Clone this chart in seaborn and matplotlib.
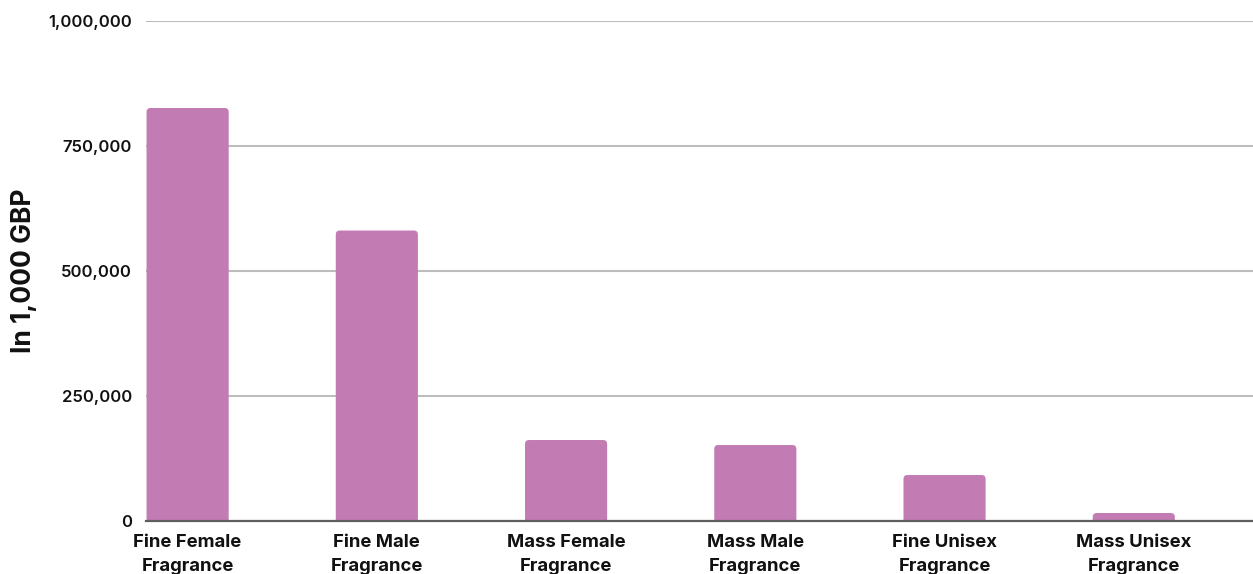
import numpy as np
import pandas as pd
import matplotlib.pyplot as plt
import seaborn as sns
from matplotlib.patches import FancyBboxPatch

# Market values (in 1,000 GBP)
categories = ['Fine Female\nFragrance', 'Fine Male\nFragrance', 'Mass Female\nFragrance',
              'Mass Male\nFragrance', 'Fine Unisex\nFragrance', 'Mass Unisex\nFragrance']
values = [826000, 581000, 162000, 152000, 92000, 16000]
y_ticks = [0, 250000, 500000, 750000, 1000000]

df = pd.DataFrame({'category': categories, 'value': values})

sns.set_theme(style='white')
plt.rcParams['font.family'] = ['Inter', 'DejaVu Sans']

fig = plt.figure(figsize=(12.53, 5.74), dpi=100)
ax = fig.add_axes([0.1165, 0.0923, 0.8835, 0.8711])

sns.barplot(data=df, x='category', y='value', color='#c27cb3', saturation=1,
            width=0.434, ax=ax)

ax.set_ylim(0, 1000000)
ax.set_xlim(-0.22, 5.63)

# swap the square bars for ones with rounded tops
px_x = 0.8835 * 1253 / (5.63 + 0.22)
px_y = 0.8711 * 574 / 1000000
r = 4 / px_x
for p in list(ax.patches):
    x0, w, h = p.get_x(), p.get_width(), p.get_height()
    ext = 6 / px_y
    rb = FancyBboxPatch((x0, -ext), w, h + ext,
                        boxstyle=f'round,pad=0,rounding_size={r}',
                        mutation_aspect=px_x / px_y,
                        facecolor='#c27cb3', edgecolor='none', zorder=2)
    p.remove()
    ax.add_patch(rb)

ax.set_yticks(y_ticks)
ax.set_yticklabels([f'{v:,}' for v in y_ticks])
ax.yaxis.grid(True, color='#bdbdbd', linewidth=1.5)
ax.set_axisbelow(True)

for s in ['top', 'left', 'right']:
    ax.spines[s].set_visible(False)
ax.spines['bottom'].set_color('#5f5f5f')
ax.spines['bottom'].set_linewidth(1.6)
ax.spines['bottom'].set_zorder(3)

ax.tick_params(axis='y', length=0, pad=10, labelsize=12, labelcolor='#111111')
ax.tick_params(axis='x', length=0, pad=9, labelsize=13.3, labelcolor='#111111')
for lbl in ax.get_yticklabels():
    lbl.set_fontweight('semibold')
for lbl in ax.get_xticklabels():
    lbl.set_fontweight('bold')
    lbl.set_linespacing(1.6)

ax.set_xlabel('')
ax.set_ylabel('In 1,000 GBP', fontsize=19, fontweight='bold', color='#111111', labelpad=8)

fig.savefig('out.png', dpi=100)
